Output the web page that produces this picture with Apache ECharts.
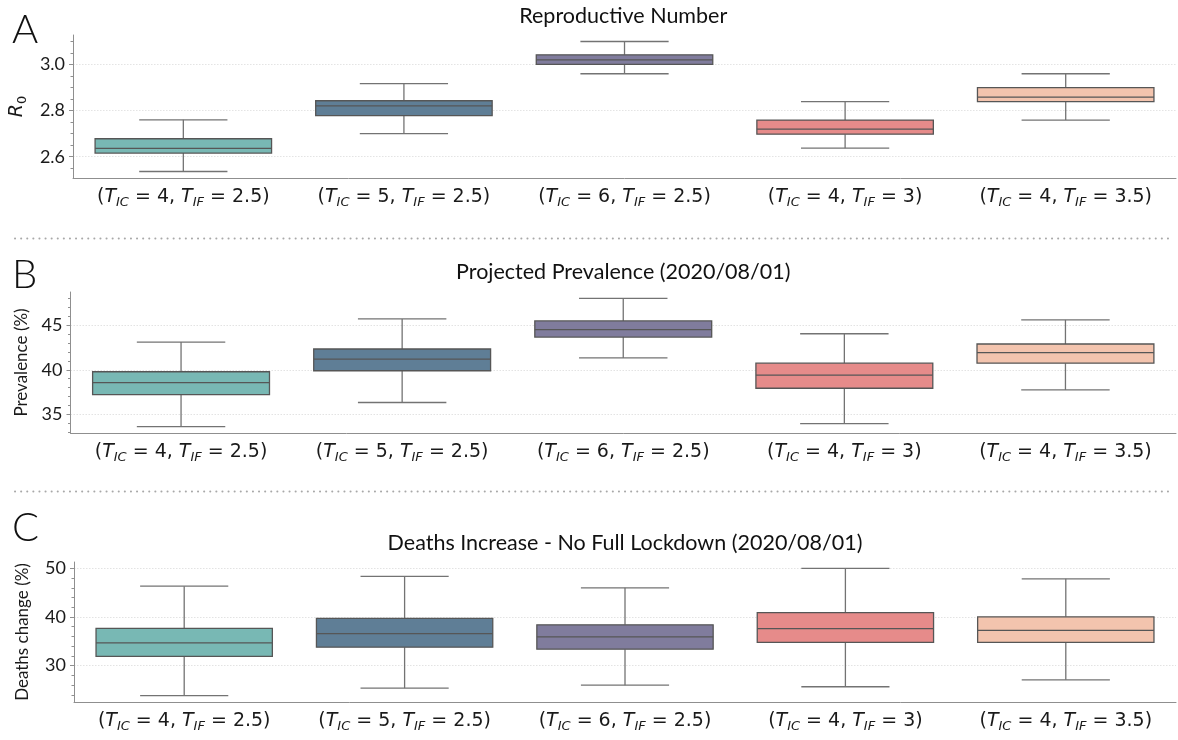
<!DOCTYPE html>
<html>
<head>
<meta charset="utf-8">
<title>Scenario comparison</title>
<script src="https://cdn.jsdelivr.net/npm/echarts@6.0.0/dist/echarts.min.js"></script>
<style>
  html, body { margin: 0; padding: 0; background: #ffffff; }
  #chart { width: 1178px; height: 740px; }
</style>
</head>
<body>
<div id="chart"></div>
<script>
// Scenario settings (incubation-to-contagion and infection-to-confinement times)
const tIC = [4, 5, 6, 4, 4];
const tIF = [2.5, 2.5, 2.5, 3, 3.5];

// Box statistics per scenario: [whisker low, Q1, median, Q3, whisker high]
const r0Stats = [
  [2.536, 2.616, 2.636, 2.678, 2.760],
  [2.700, 2.778, 2.821, 2.843, 2.917],
  [2.960, 3.001, 3.020, 3.042, 3.100],
  [2.637, 2.698, 2.720, 2.759, 2.839],
  [2.759, 2.839, 2.859, 2.900, 2.960]
];
const prevalenceStats = [
  [33.63, 37.22, 38.56, 39.78, 43.11],
  [36.33, 39.89, 41.19, 42.33, 45.70],
  [41.33, 43.67, 44.50, 45.48, 48.00],
  [33.96, 37.93, 39.41, 40.74, 44.04],
  [37.74, 40.74, 41.93, 42.89, 45.59]
];
const deathsStats = [
  [23.84, 31.90, 34.68, 37.67, 46.34],
  [25.38, 33.80, 36.57, 39.70, 48.37],
  [26.00, 33.40, 35.90, 38.40, 46.00],
  [25.67, 34.80, 37.60, 40.90, 50.00],
  [27.10, 34.80, 37.26, 40.03, 47.84]
];

// Tick labels of the value axes
const r0Ticks = [2.6, 2.8, 3.0];
const prevalenceTicks = [35, 40, 45];
const deathsTicks = [30, 40, 50];

// Panel texts
const panelTitles = ['Reproductive Number', 'Projected Prevalence (2020/08/01)', 'Deaths Increase - No Full Lockdown (2020/08/01)'];
const panelLetters = ['A', 'B', 'C'];

const categories = tIC.map((a, i) => '(T_IC = ' + a + ', T_IF = ' + tIF[i] + ')');

const boxColors = ['#78b8b4', '#5f7e96', '#807c9d', '#e68b8a', '#f3c4ae'];
const edgeColor = '#565656';
const whiskerColor = '#737373';
const spineColor = '#8f8f8f';
const FONT = 'Lato, "Open Sans", sans-serif';
const MATH = '"DejaVu Sans", sans-serif';

const chart = echarts.init(document.getElementById('chart'), null, { renderer: 'canvas' });

// Panel frames
const grids = [
  { left: 70.5, top: 35, width: 1105.5, height: 143 },
  { left: 70.5, top: 292, width: 1105.5, height: 141 },
  { left: 74, top: 562, width: 1102, height: 140 }
];

function paddedRange(stats) {
  let lo = Infinity, hi = -Infinity;
  stats.forEach(s => { lo = Math.min(lo, s[0]); hi = Math.max(hi, s[4]); });
  const m = (hi - lo) * 0.05;
  return [lo - m, hi + m];
}

const richCat = {
  p: { fontFamily: MATH, fontSize: 19, color: '#1a1a1a' },
  t: { fontFamily: MATH, fontSize: 19, fontStyle: 'italic', color: '#1a1a1a' },
  s: { fontFamily: MATH, fontSize: 13, fontStyle: 'italic', color: '#1a1a1a', padding: [10, 0, 0, 0] }
};
function catLabel(value, idx) {
  return '{p|(}{t|T}{s|IC}{p| = ' + tIC[idx] + ', }{t|T}{s|IF}{p| = ' + tIF[idx] + ')}';
}

const xAxes = [];
const yAxes = [];
const series = [];
const statsList = [r0Stats, prevalenceStats, deathsStats];
const tickList = [r0Ticks, prevalenceTicks, deathsTicks];
const minorSplits = [4, 5, 5];
const intervals = [0.2, 5, 10];
const yNames = ['{i|R}{s|0}', 'Prevalence (%)', 'Deaths change (%)'];
const yNameGaps = [42, 40, 43];
const fineCats = Array.from({ length: 25 }, (_, i) => 'f' + i);

grids.forEach((g, k) => {
  // main category axis with labels and ticks at box centres
  xAxes.push({
    type: 'category', gridIndex: k, position: 'bottom', data: categories,
    axisLine: { lineStyle: { color: spineColor, width: 1 } },
    axisTick: { alignWithLabel: true, interval: 0, length: 5, lineStyle: { color: spineColor } },
    axisLabel: { interval: 0, margin: 8, formatter: catLabel, rich: richCat }
  });
  // fine ticks every fifth of a category
  xAxes.push({
    type: 'category', gridIndex: k, position: 'bottom', data: fineCats,
    axisLine: { show: false },
    axisTick: { alignWithLabel: true, interval: 0, length: 3, lineStyle: { color: spineColor } },
    axisLabel: { show: false }, splitLine: { show: false }
  });
  const range = paddedRange(statsList[k]);
  const ticks = tickList[k];
  const dec = k === 0 ? 1 : 0;
  yAxes.push({
    type: 'value', gridIndex: k, min: range[0], max: range[1],
    minInterval: intervals[k], maxInterval: intervals[k], splitNumber: 3,
    name: yNames[k], nameLocation: 'middle', nameRotate: 90, nameGap: yNameGaps[k],
    nameTextStyle: {
      fontFamily: FONT, fontSize: 17, color: '#1a1a1a',
      rich: {
        i: { fontFamily: MATH, fontStyle: 'italic', fontSize: 19, color: '#1a1a1a' },
        s: { fontFamily: MATH, fontSize: 13, color: '#1a1a1a', padding: [10, 0, 0, 0] }
      }
    },
    axisLine: { show: true, lineStyle: { color: spineColor, width: 1 } },
    axisTick: { show: true, length: 4, customValues: ticks, lineStyle: { color: spineColor } },
    minorTick: { show: true, splitNumber: minorSplits[k], length: 2.5, lineStyle: { color: spineColor } },
    axisLabel: {
      customValues: ticks, margin: 8, fontFamily: FONT, fontSize: 18, color: '#1a1a1a',
      formatter: v => v.toFixed(dec)
    },
    splitLine: {
      show: true,
      lineStyle: { color: '#dcdcdc', width: 0.8, type: [1.5, 1.5] }
    },
    minorSplitLine: { show: false }
  });
  series.push({
    type: 'custom', xAxisIndex: 2 * k, yAxisIndex: k,
    data: statsList[k].map((s, i) => [i].concat(s)),
    encode: { x: 0, y: [1, 2, 3, 4, 5] },
    renderItem: function (params, api) {
      const x = api.value(0);
      const lo = api.coord([x, api.value(1)]);
      const q1 = api.coord([x, api.value(2)]);
      const md = api.coord([x, api.value(3)]);
      const q3 = api.coord([x, api.value(4)]);
      const hi = api.coord([x, api.value(5)]);
      const band = api.size([1, 0])[0];
      const half = band * 0.4;
      const cap = band * 0.2;
      const cx = lo[0];
      const wl = { stroke: whiskerColor, lineWidth: 1.3 };
      return {
        type: 'group',
        children: [
          { type: 'line', shape: { x1: cx, y1: hi[1], x2: cx, y2: q3[1] }, style: wl },
          { type: 'line', shape: { x1: cx, y1: q1[1], x2: cx, y2: lo[1] }, style: wl },
          { type: 'line', shape: { x1: cx - cap, y1: hi[1], x2: cx + cap, y2: hi[1] }, style: wl },
          { type: 'line', shape: { x1: cx - cap, y1: lo[1], x2: cx + cap, y2: lo[1] }, style: wl },
          { type: 'rect', shape: { x: cx - half, y: q3[1], width: 2 * half, height: q1[1] - q3[1] },
            style: { fill: boxColors[params.dataIndex], stroke: edgeColor, lineWidth: 1.3 } },
          { type: 'line', shape: { x1: cx - half, y1: md[1], x2: cx + half, y2: md[1] },
            style: { stroke: edgeColor, lineWidth: 1.3 } }
        ]
      };
    }
  });
});

const titleTops = [5, 261, 532];
const letterTops = [10, 255, 508];

const graphics = [];
panelTitles.forEach((t, k) => {
  graphics.push({
    type: 'text', x: grids[k].left + grids[k].width / 2, y: titleTops[k],
    style: { text: t, align: 'center', verticalAlign: 'top', fontFamily: FONT, fontWeight: 400, fontSize: 21.5, fill: '#111111' }
  });
});
panelLetters.forEach((L, k) => {
  graphics.push({
    type: 'text', left: 12, top: letterTops[k],
    style: { text: L, fontFamily: FONT, fontWeight: 300, fontSize: 40, fill: '#111111' }
  });
});
[238.5, 491.5].forEach(y => {
  graphics.push({
    type: 'line', shape: { x1: 15, y1: y, x2: 1172, y2: y },
    style: { stroke: '#a8a8a8', lineWidth: 2, lineDash: [0.1, 6], lineCap: 'round' }
  });
});

chart.setOption({
  animation: false,
  backgroundColor: '#ffffff',
  grid: grids,
  xAxis: xAxes,
  yAxis: yAxes,
  series: series,
  graphic: graphics
});
</script>
</body>
</html>
